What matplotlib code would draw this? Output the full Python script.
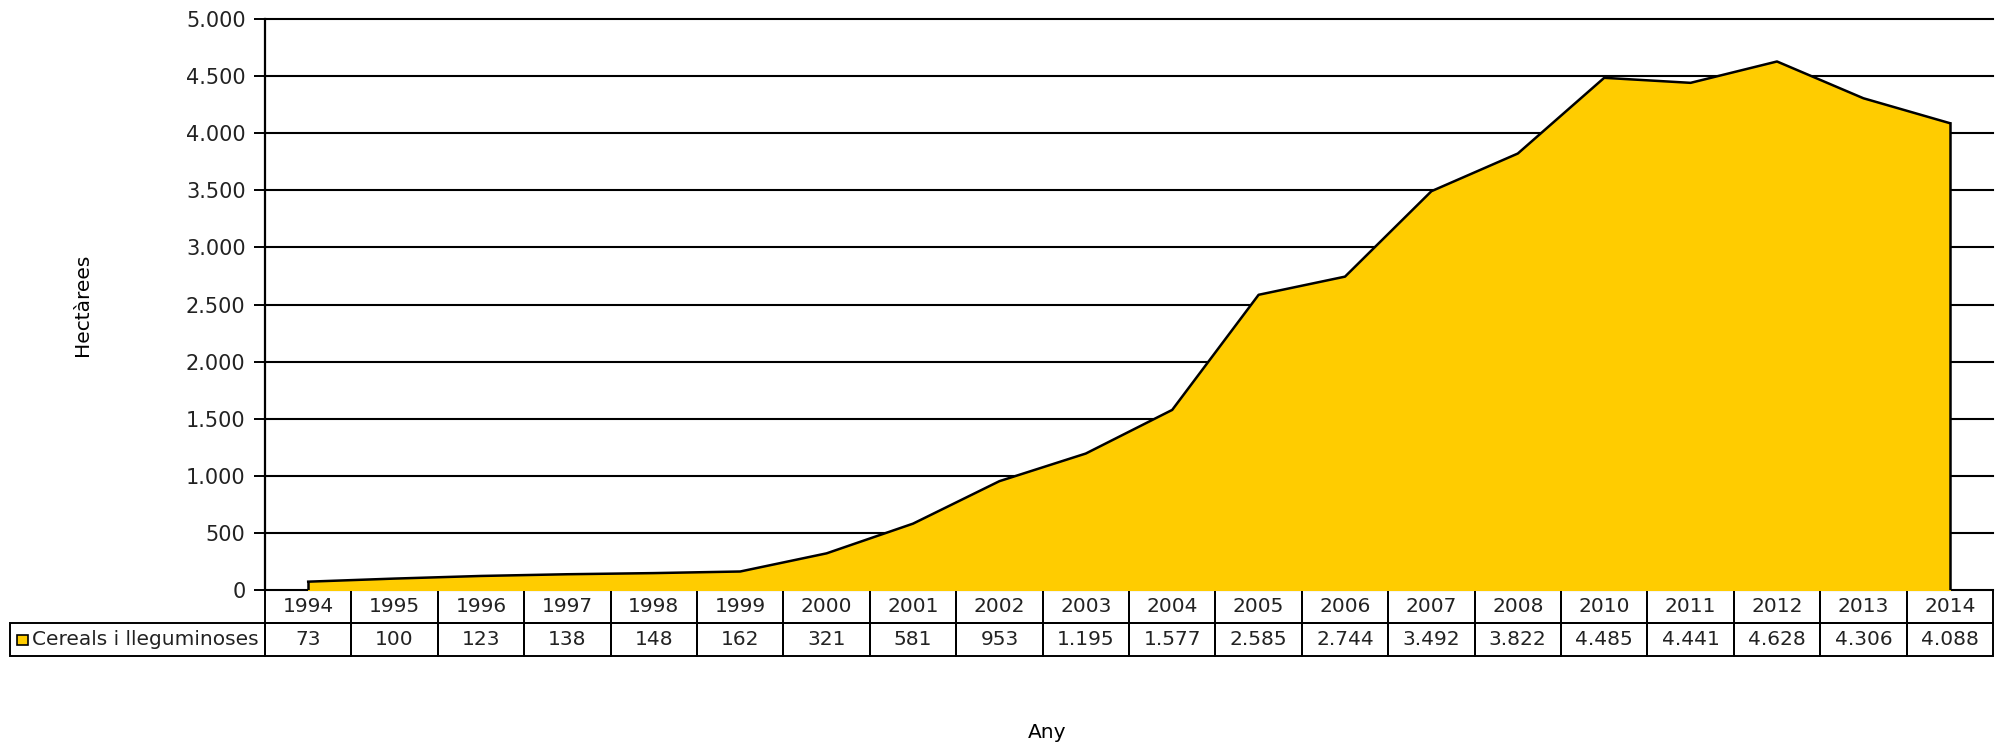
import matplotlib.pyplot as plt
from matplotlib.patches import Rectangle
from matplotlib.ticker import FuncFormatter, MultipleLocator
import matplotlib.transforms as mtransforms

plt.rcParams['font.family'] = ['DejaVu Sans']

anys = ['1994', '1995', '1996', '1997', '1998', '1999', '2000', '2001', '2002', '2003',
        '2004', '2005', '2006', '2007', '2008', '2010', '2011', '2012', '2013', '2014']
hectarees = [73, 100, 123, 138, 148, 162, 321, 581, 953, 1195,
             1577, 2585, 2744, 3492, 3822, 4485, 4441, 4628, 4306, 4088]
serie = 'Cereals i lleguminoses'


def fmt(v, pos=None):
    return f"{v:,.0f}".replace(',', '.')


W, H = 1995, 747
fs = 14.5
fig = plt.figure(figsize=(W / 100, H / 100), dpi=100)
ax = fig.add_axes([265 / W, 1 - 590 / H, 1728 / W, 571 / H])

x = list(range(len(anys)))
ax.fill_between(x, hectarees, 0, color='#FFCC00', zorder=2)
ax.plot(x, hectarees, color='black', lw=1.8, zorder=3)
ax.plot([x[-1], x[-1]], [0, hectarees[-1]], color='black', lw=1.8, zorder=3)
ax.plot([x[0], x[0]], [0, hectarees[0]], color='black', lw=1.8, zorder=3)

ax.set_xlim(-0.5, len(anys) - 0.5)
ax.set_ylim(0, 5000)
ax.yaxis.set_major_locator(MultipleLocator(500))
ax.yaxis.set_major_formatter(FuncFormatter(fmt))
ax.grid(axis='y', color='black', lw=1.5, zorder=1)
for gl in ax.get_ygridlines():
    gl.set_clip_on(False)
ax.set_axisbelow(True)
for s in ['top', 'right', 'bottom']:
    ax.spines[s].set_visible(False)
ax.spines['left'].set_linewidth(1.6)
ax.set_xticks([])
ax.tick_params(axis='y', length=8, width=1.4, labelsize=fs, pad=6, colors='black')
for t in ax.get_yticklabels():
    t.set_color('#222222')
    t.set_fontsize(15)
ax.set_ylabel('Hectàrees', fontsize=fs)
ax.yaxis.set_label_coords(-0.1, 0.5)

# data table below the plot
trans = mtransforms.blended_transform_factory(ax.transData, ax.transAxes)
rh = 33 / 571
lw = 1.4
for i, (a, v) in enumerate(zip(anys, hectarees)):
    for r, txt in enumerate([a, fmt(v)]):
        y0 = -(r + 1) * rh
        ax.add_patch(Rectangle((i - 0.5, y0), 1, rh, transform=trans, fill=False,
                               ec='black', lw=lw, clip_on=False))
        ax.text(i, y0 + rh / 2, txt, transform=trans, ha='center', va='center',
                fontsize=fs, color='#222222', clip_on=False)

lab_left = (10 - 265) / 1728
ax.add_patch(Rectangle((lab_left, -2 * rh), -lab_left, rh, transform=ax.transAxes,
                       fill=False, ec='black', lw=lw, clip_on=False))
ax.add_patch(Rectangle((lab_left + 7 / 1728, -1.5 * rh - 5 / 571), 11 / 1728, 10 / 571,
                       transform=ax.transAxes, fc='#FFCC00', ec='black', lw=1.2,
                       clip_on=False))
ax.text(lab_left + 22 / 1728, -1.5 * rh, serie, transform=ax.transAxes, ha='left',
        va='center', fontsize=fs, color='#222222', clip_on=False)

fig.text(1047 / W, 1 - 732 / H, 'Any', ha='center', va='center', fontsize=fs)

fig.savefig('out.png', dpi=100)
